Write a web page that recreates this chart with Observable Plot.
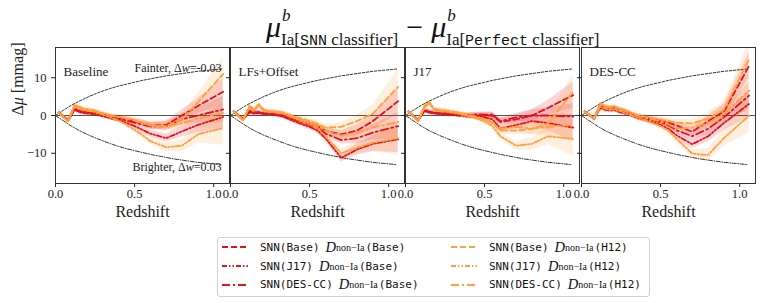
<!DOCTYPE html>
<html><head><meta charset="utf-8">
<script src="https://cdn.jsdelivr.net/npm/d3@7"></script>
<script src="https://cdn.jsdelivr.net/npm/@observablehq/plot@0.6"></script>
<style>
body{margin:0;background:#fff;}
#root{position:relative;width:764px;height:303px;overflow:hidden;font-family:"Liberation Serif","DejaVu Serif",serif;color:#111;}
.panel{position:absolute;top:0;}
#title{position:absolute;left:266px;top:12px;white-space:nowrap;font-size:30px;line-height:1;}
#title .mu{font-style:italic;}
#title .st{display:inline-block;position:relative;font-size:17px;vertical-align:baseline;}
#title .st .sub{position:relative;top:8px;}
#title .st .sup{position:absolute;left:1px;top:-16px;font-style:italic;}
#title .tt{font-family:"Liberation Mono","DejaVu Sans Mono",monospace;font-size:15px;}
#title .op{margin:0 8px;}
#legend{position:absolute;left:217px;top:237px;border:1px solid #d0d0d0;border-radius:3px;padding:0 8px 2px 4px;display:grid;grid-template-columns:229px auto;grid-auto-flow:column;grid-template-rows:repeat(3,18.8px);background:#fff;}
#legend .it{display:flex;align-items:center;white-space:nowrap;}
#legend svg{margin-right:12px;}
#legend .tt{font-family:"DejaVu Sans Mono",monospace;font-size:11px;}
#legend .d{font-style:italic;font-size:14.5px;margin-left:6px;}
#legend sub{font-size:10px;vertical-align:-3px;margin-right:1px;}
</style></head>
<body><div id="root">
<div id="title"><span class="mu">μ</span><span class="st"><span class="sup">b</span><span class="sub">Ia[<span class="tt">SNN</span> classifier]</span></span><span class="op">−</span><span class="mu">μ</span><span class="st"><span class="sup">b</span><span class="sub">Ia[<span class="tt">Perfect</span> classifier]</span></span></div>
<div id="legend"></div>
</div>
<script>
// Redshift bins
const z = [0.02,0.08,0.12,0.15,0.18,0.21,0.24,0.27,0.30,0.33,0.36,0.40,0.45,0.50,0.55,0.60,0.70,0.80,0.90,1.06];
const panelNames = ["Baseline","LFs+Offset","J17","DES-CC"];
const seriesLabels = ["SNN(Base)","SNN(J17)","SNN(DES-CC)","SNN(Base)","SNN(J17)","SNN(DES-CC)"];
const seriesSample = ["Base","Base","Base","H12","H12","H12"];
// order: red dashed, red dash-dot-dot, red dash-dot, orange dashed, orange dash-dot-dot, orange dash-dot
const baselineVals = [
  [0.8,-1.3,1.8,1.2,1.0,0.9,0.8,0.5,0.3,0.0,-0.3,-0.6,-1.0,-1.5,-2.0,-2.7,-2.5,0.0,2.5,6.3],
  [0.8,-1.4,1.5,1.0,0.6,0.5,0.4,0.1,-0.2,-0.5,-0.9,-1.2,-2.0,-2.8,-3.8,-4.8,-6.0,-4.2,-2.5,-0.4],
  [0.8,-1.3,1.6,1.1,0.8,0.8,0.7,0.4,0.1,-0.2,-0.5,-0.9,-1.4,-1.9,-2.4,-2.9,-2.8,-1.0,0.0,1.6],
  [0.8,-1.5,2.6,2.1,1.6,1.4,1.2,0.9,0.5,0.2,-0.1,-0.4,-0.8,-1.3,-2.0,-2.6,-2.8,-1.0,3.5,11.0],
  [0.8,-1.6,2.4,1.8,1.4,1.2,1.0,0.6,0.2,-0.2,-0.7,-1.3,-2.5,-3.8,-5.2,-6.8,-8.4,-8.0,-5.0,-3.3],
  [0.8,-1.5,2.8,2.3,1.8,1.6,1.4,1.0,0.6,0.2,-0.1,-0.4,-0.8,-1.3,-2.0,-2.7,-2.9,-2.0,-0.8,0.7]
];
const lfsVals = [
  [1.0,-1.0,1.2,0.8,0.9,0.6,0.5,0.4,0.3,0.1,-0.3,-0.9,-1.5,-2.2,-2.8,-4.0,-5.0,-4.0,-1.5,3.8],
  [1.0,-1.0,0.8,0.5,0.6,0.4,0.3,0.2,0.0,-0.3,-0.8,-1.5,-2.3,-3.0,-4.0,-6.0,-11.2,-9.0,-7.5,-6.3],
  [1.0,-1.0,1.0,0.7,0.8,0.5,0.4,0.3,0.1,-0.1,-0.5,-1.1,-1.8,-2.5,-3.2,-4.8,-6.5,-6.0,-4.5,-2.8],
  [1.0,-1.2,2.5,1.6,3.0,1.5,1.2,1.1,1.0,0.8,0.4,-0.2,-0.8,-1.5,-2.2,-3.2,-3.0,-1.5,0.5,7.6],
  [1.0,-1.2,2.2,1.4,2.6,1.3,1.0,0.9,0.7,0.5,0.0,-0.7,-1.5,-2.3,-3.2,-5.5,-10.0,-8.5,-7.2,-6.0],
  [1.0,-1.2,2.3,1.5,2.8,1.4,1.1,1.0,0.9,0.6,0.2,-0.4,-1.1,-1.8,-2.6,-4.0,-5.3,-4.5,-3.2,-1.7]
];
const j17Vals = [
  [1.0,-1.3,1.5,1.0,0.8,0.6,0.6,0.5,0.4,0.3,0.2,0.0,0.1,0.0,0.0,-1.7,-1.0,0.0,2.0,5.4],
  [1.0,-1.3,1.2,0.8,0.5,0.4,0.3,0.2,0.1,0.0,-0.1,-0.3,-0.2,-0.5,-1.0,-3.5,-2.5,-1.5,-2.0,-3.2],
  [1.0,-1.3,1.3,0.9,0.7,0.5,0.5,0.4,0.3,0.2,0.1,0.1,0.3,0.2,0.2,-1.5,-0.5,0.0,0.0,-0.3],
  [1.0,-1.5,2.5,3.6,1.8,1.5,1.4,1.2,1.0,0.8,0.5,0.2,-0.3,-1.0,-1.8,-4.0,-4.0,-3.5,-2.2,6.3],
  [1.0,-1.5,2.2,3.2,1.5,1.2,1.1,0.9,0.7,0.5,0.2,-0.2,-0.8,-1.6,-2.8,-5.5,-8.0,-7.5,-5.5,-6.2],
  [1.0,-1.5,2.4,3.4,1.7,1.4,1.3,1.1,0.9,0.7,0.4,0.0,-0.5,-1.2,-2.0,-3.5,-3.0,-3.5,-3.0,-2.5]
];
const descVals = [
  [1.0,-0.8,3.0,2.2,2.0,2.2,1.6,1.4,0.8,0.2,-0.2,-0.5,-0.9,-1.4,-1.9,-2.6,-4.3,-1.5,1.0,13.2],
  [1.0,-0.8,2.0,1.5,1.3,1.4,0.9,0.6,0.2,-0.3,-0.8,-1.2,-1.8,-2.5,-3.5,-5.2,-7.6,-5.5,-2.0,3.1],
  [1.0,-0.8,2.6,2.0,1.8,1.9,1.4,1.1,0.6,0.1,-0.3,-0.7,-1.2,-1.8,-2.6,-3.9,-5.5,-3.5,-0.5,5.3],
  [1.0,-0.8,3.2,2.4,2.2,2.4,1.8,1.5,1.0,0.5,0.0,-0.3,-0.7,-1.1,-1.5,-1.9,-2.1,-0.8,1.5,15.0],
  [1.0,-0.8,2.4,1.8,1.5,1.6,1.2,0.8,0.3,-0.2,-0.7,-1.2,-2.0,-2.8,-4.0,-6.1,-10.1,-10.5,-6.0,0.0],
  [1.0,-0.8,3.0,2.3,2.0,2.1,1.6,1.3,0.8,0.3,-0.2,-0.6,-1.0,-1.6,-2.3,-3.5,-3.2,-2.0,0.5,6.6]
];
// 1-sigma band half-widths
const errBase = [0.4,0.5,0.6,0.6,0.5,0.5,0.5,0.5,0.5,0.5,0.5,0.6,0.6,0.7,0.8,0.9,1.1,1.5,2.0,3.5];
const errH12  = [0.4,0.5,0.6,0.6,0.5,0.5,0.5,0.5,0.5,0.5,0.5,0.6,0.6,0.7,0.8,0.9,1.1,1.6,2.3,4.5];
// Reference curves for Δw = ∓0.03
const zRef = [0,0.05,0.1,0.15,0.2,0.25,0.3,0.35,0.4,0.45,0.5,0.55,0.6,0.65,0.7,0.75,0.8,0.85,0.9,0.95,1.0,1.05];
const fainter = [0,1.4,2.7,3.8,4.8,5.7,6.5,7.2,7.8,8.3,8.8,9.3,9.7,10.1,10.5,10.8,11.1,11.4,11.7,11.9,12.1,12.3];
const brighter = [0,-1.4,-2.8,-4.0,-5.0,-5.9,-6.7,-7.5,-8.2,-8.8,-9.3,-9.8,-10.3,-10.7,-11.1,-11.5,-11.8,-12.1,-12.4,-12.6,-12.8,-13.0];
const xTicks = [0,0.5,1.0];
const yTicks = [-10,0,10];

const allVals = [baselineVals, lfsVals, j17Vals, descVals];
const RED = "#e3121b", ORANGE = "#ff9f3f";
const colors = [RED,RED,RED,ORANGE,ORANGE,ORANGE];
const dashes = ["6,3","5,2,1.5,2,1.5,2","8,3,2,3","6,3","5,2,1.5,2,1.5,2","8,3,2,3"];
const errs = [errBase,errBase,errBase,errH12,errH12,errH12];
const frameLefts = [55,230,405,581];
const FW = 174;
const FONT = "'Liberation Serif','DejaVu Serif',serif";
const root = document.getElementById("root");

function italicize(svg){
  svg.querySelectorAll("text").forEach(t=>{
    const s = t.textContent;
    if (s === "Δμ [mmag]") t.innerHTML = 'Δ<tspan font-style="italic">μ</tspan> [mmag]';
    else if (s.startsWith("Fainter")) t.innerHTML = 'Fainter, Δ<tspan font-style="italic">w</tspan>=-0.03';
    else if (s.startsWith("Brighter")) t.innerHTML = 'Brighter, Δ<tspan font-style="italic">w</tspan>=0.03';
  });
}

panelNames.forEach((name,i)=>{
  const first = i===0;
  const ml = first?55:20, mr = 20;
  const marks = [];
  allVals[i].forEach((arr,s)=>{
    const rows = arr.map((v,k)=>({z:z[k], v, lo:v-errs[s][k], hi:v+errs[s][k]}));
    marks.push(Plot.areaY(rows,{x:"z",y1:"lo",y2:"hi",fill:colors[s],fillOpacity:0.17,clip:true}));
  });
  const refF = zRef.map((x,k)=>({z:x,v:fainter[k]}));
  const refB = zRef.map((x,k)=>({z:x,v:brighter[k]}));
  marks.push(Plot.line(refF,{x:"z",y:"v",stroke:"#222",strokeWidth:0.9,strokeDasharray:"2.5,1.5"}));
  marks.push(Plot.line(refB,{x:"z",y:"v",stroke:"#222",strokeWidth:0.9,strokeDasharray:"4,1.5,1,1.5"}));
  marks.push(Plot.ruleY([0],{stroke:"#555",strokeWidth:1}));
  allVals[i].forEach((arr,s)=>{
    const rows = arr.map((v,k)=>({z:z[k], v}));
    marks.push(Plot.line(rows,{x:"z",y:"v",stroke:colors[s],strokeWidth:1.8,strokeDasharray:dashes[s],clip:true}));
  });
  marks.push(Plot.text([name],{frameAnchor:"top-left",dx:8,dy:19,fontSize:13,textAnchor:"start",fill:"#222",fontFamily:FONT}));
  if (first){
    marks.push(Plot.text(["Fainter, Δw=-0.03"],{frameAnchor:"top-right",dx:-8,dy:16,fontSize:12,textAnchor:"end",fill:"#222",fontFamily:FONT}));
    marks.push(Plot.text(["Brighter, Δw=0.03"],{frameAnchor:"bottom-right",dx:-8,dy:-13,fontSize:12,textAnchor:"end",fill:"#222",fontFamily:FONT}));
    marks.push(Plot.text(["Δμ [mmag]"],{frameAnchor:"left",dx:-38,rotate:-90,fontSize:16,fill:"#222",fontFamily:FONT}));
  }
  marks.push(Plot.text(["Redshift"],{frameAnchor:"bottom",dy:33,fontSize:16,fill:"#222",fontFamily:FONT}));
  marks.push(Plot.frame({stroke:"#333",strokeWidth:1}));
  const svg = Plot.plot({
    width: ml+FW+mr, height: 235,
    marginLeft: ml, marginRight: mr, marginTop: 47, marginBottom: 52,
    style:{background:"transparent",fontFamily:FONT,fontSize:"12.5px",color:"#222",overflow:"visible"},
    x:{domain:[0,1.1],ticks:xTicks,tickFormat:d3.format(".1f"),label:null,tickSize:4,tickPadding:2},
    y:{domain:[-18,18],ticks:yTicks,label:null,tickSize:4,tickFormat: first? (d=>d3.format("d")(d).replace("-","−")) : (()=>"")},
    marks
  });
  italicize(svg);
  svg.querySelectorAll("text").forEach(t=>t.style.fontFamily = FONT);
  svg.style.fontFamily = FONT;
  svg.classList.add("panel");
  svg.style.left = (frameLefts[i]-ml)+"px";
  svg.style.position = "absolute";
  svg.style.top = "0px";
  root.appendChild(svg);
});

// legend
const leg = document.getElementById("legend");
seriesLabels.forEach((lab,s)=>{
  const it = document.createElement("div");
  it.className = "it";
  it.innerHTML = `<svg width="26" height="6"><line x1="0" y1="3" x2="26" y2="3" stroke="${colors[s]}" stroke-width="1.8" stroke-dasharray="${dashes[s]}"/></svg><span class="tt">${lab}</span><span class="d">D</span><sub>non−Ia</sub><span class="tt">(${seriesSample[s]})</span>`;
  leg.appendChild(it);
});
</script>
</body></html>
